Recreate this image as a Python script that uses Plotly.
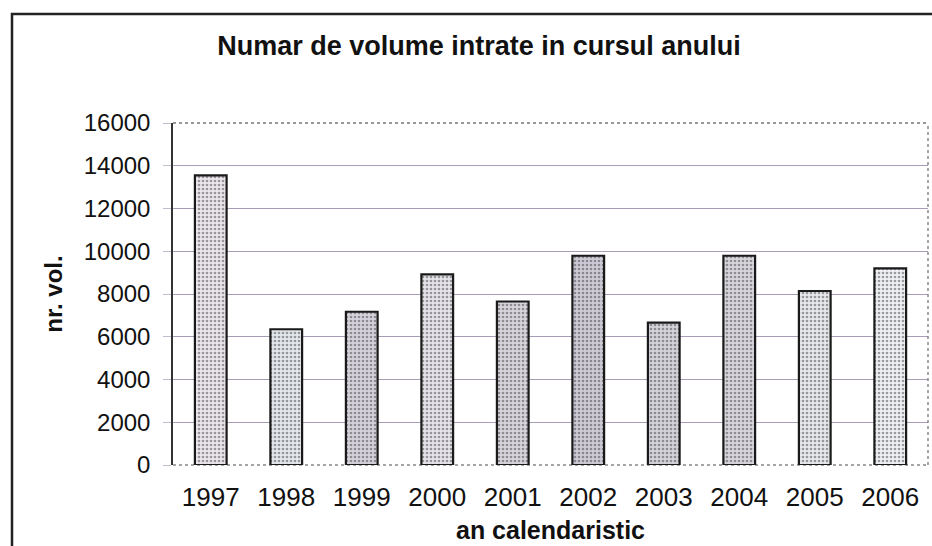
import plotly.graph_objects as go

# Volumes received per calendar year
years = ["1997", "1998", "1999", "2000", "2001", "2002", "2003", "2004", "2005", "2006"]
volumes = [13550, 6350, 7170, 8920, 7650, 9790, 6660, 9790, 8140, 9200]
y_ticks = [0, 2000, 4000, 6000, 8000, 10000, 12000, 14000, 16000]

# Stippled fills, slightly tinted per bar like a printed halftone
fill_bg = ["#ece6ec", "#e4e8ec", "#d6d2dc", "#e6e4ea", "#d8d4dc",
           "#cfcbd6", "#d4d2da", "#d8d6dc", "#e6e8ec", "#eef0f4"]
dot_fg = ["#b8b0bc", "#b4bcc0", "#8c8698", "#aaa6b0", "#948ea0",
          "#857f92", "#8e8a9a", "#9a96a4", "#c0c4c8", "#d0d4da"]

fig = go.Figure(
    go.Bar(
        x=years,
        y=volumes,
        width=0.42,
        marker=dict(
            color=fill_bg,
            line=dict(color="#1a1a1a", width=2.2),
            pattern=dict(shape=".", size=4, solidity=0.35, fgcolor=dot_fg, fillmode="overlay"),
        ),
        hoverinfo="x+y",
    )
)

font_family = "Liberation Sans, Arial, sans-serif"

fig.update_layout(
    width=932,
    height=546,
    margin=dict(l=173, r=4, t=123, b=81),
    paper_bgcolor="white",
    plot_bgcolor="white",
    showlegend=False,
    title=dict(
        text="<b>Numar de volume intrate in cursul anului</b>",
        x=(213 + 745) / 2 / 932,
        xref="container",
        xanchor="center",
        y=1 - 46 / 546,
        yanchor="middle",
        font=dict(family=font_family, size=27, color="#111111"),
    ),
    font=dict(family=font_family, color="#111111"),
)

fig.update_xaxes(
    type="category",
    showgrid=False,
    showline=False,
    ticks="",
    tickfont=dict(size=26, color="#111111"),
    ticklabelstandoff=14,
    title=dict(text="<b>an calendaristic</b>", font=dict(size=25, color="#111111"), standoff=10),
)

fig.update_yaxes(
    range=[0, 16000],
    tickvals=y_ticks,
    ticktext=[str(v) for v in y_ticks],
    showgrid=True,
    gridcolor="#a99cb8",
    gridwidth=1.3,
    zeroline=False,
    showline=True,
    linecolor="#333333",
    linewidth=1.5,
    ticks="outside",
    ticklen=8,
    tickcolor="rgba(156,143,174,0.6)",
    tickfont=dict(size=24, color="#111111"),
    ticklabelstandoff=8,
    title=dict(text="<b>nr. vol.</b>", font=dict(size=24, color="#111111"), standoff=14),
)

# Dotted border around the plotting area (top, right, bottom)
fig.add_shape(type="line", xref="paper", yref="paper", x0=0, x1=1, y0=1, y1=1,
              line=dict(color="#777777", width=1.3, dash="dot"))
fig.add_shape(type="line", xref="paper", yref="paper", x0=1, x1=1, y0=0, y1=1,
              line=dict(color="#777777", width=1.3, dash="dot"))
fig.add_shape(type="line", xref="paper", yref="paper", x0=0, x1=1, y0=0, y1=0,
              line=dict(color="#888888", width=1.3, dash="dot"), layer="below")

# Outer chart frame
fig.add_shape(type="rect", xref="paper", yref="paper",
              x0=-161 / 755, x1=1.05, y0=-0.4, y1=1 + 109 / 342,
              line=dict(color="#222222", width=2.5), fillcolor="rgba(0,0,0,0)")

fig.write_html("out.html")
